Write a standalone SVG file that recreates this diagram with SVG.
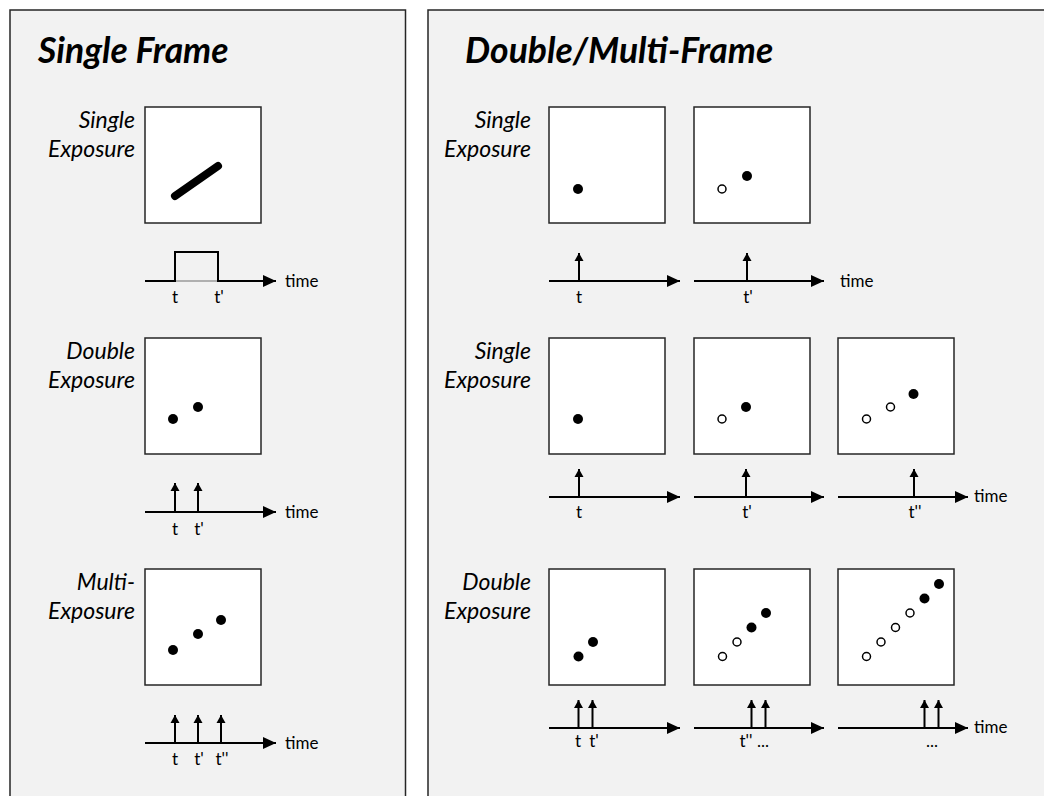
<svg xmlns="http://www.w3.org/2000/svg" width="1044" height="796" viewBox="0 0 1044 796">
<style>
.panel{fill:#f2f2f2;stroke:#262626;stroke-width:1.5}
.frame{fill:#ffffff;stroke:#262626;stroke-width:1.5}
.title{font-family:Lato,"Liberation Sans",sans-serif;font-weight:bold;font-style:italic;font-size:35.5px;fill:#000}
.lbl{font-family:Lato,"Liberation Sans",sans-serif;font-style:italic;font-size:23px;fill:#000;text-anchor:end}
.tk{font-family:Lato,"Liberation Sans",sans-serif;font-size:17px;fill:#000;text-anchor:middle}
.tm{font-family:Lato,"Liberation Sans",sans-serif;font-size:17px;fill:#000}
.dot{fill:#000}
.odot{fill:#fff;stroke:#000;stroke-width:1.5}
.axis{fill:none;stroke:#000;stroke-width:2;marker-end:url(#ah)}
.imp{fill:none;stroke:#000;stroke-width:2;marker-end:url(#ih)}
</style>
<defs>
<marker id="ah" markerUnits="userSpaceOnUse" markerWidth="14" markerHeight="12" refX="13" refY="6" orient="auto" overflow="visible"><path d="M0,0 L13,6 L0,12 Z" fill="#000"/></marker>
<marker id="ih" markerUnits="userSpaceOnUse" markerWidth="9" markerHeight="9" refX="8" refY="4.5" orient="auto" overflow="visible"><path d="M0,0 L8,4.5 L0,9 Z" fill="#000"/></marker>
</defs>
<rect width="1044" height="796" fill="#fff"/>
<g id="panel-single">
<rect class="panel" x="10" y="10" width="395.5" height="800"/>
<text class="title" x="38" y="63">Single Frame</text>
</g>
<g id="panel-multi">
<rect class="panel" x="428" y="10" width="630" height="800"/>
<text class="title" x="465" y="63">Double/Multi-Frame</text>
</g>
<g id="sf-single">
<text class="lbl" x="135" y="128">Single</text>
<text class="lbl" x="135" y="157">Exposure</text>
<rect class="frame" x="145" y="107" width="116" height="116"/>
<line x1="175" y1="196" x2="218" y2="166" stroke="#000" stroke-width="8" stroke-linecap="round"/>
</g>
<g id="sf-double">
<text class="lbl" x="135" y="359">Double</text>
<text class="lbl" x="135" y="388">Exposure</text>
<rect class="frame" x="145" y="338" width="116" height="116"/>
<circle class="dot" cx="173" cy="419" r="5"/>
<circle class="dot" cx="198" cy="407" r="5"/>
</g>
<g id="sf-multi">
<text class="lbl" x="135" y="590">Multi-</text>
<text class="lbl" x="135" y="619">Exposure</text>
<rect class="frame" x="145" y="569" width="116" height="116"/>
<circle class="dot" cx="173" cy="650" r="5"/>
<circle class="dot" cx="198" cy="634" r="5"/>
<circle class="dot" cx="221" cy="620" r="5"/>
</g>
<g id="mf-single-2">
<text class="lbl" x="531" y="128">Single</text>
<text class="lbl" x="531" y="157">Exposure</text>
<rect class="frame" x="549" y="107" width="116" height="116"/>
<circle class="dot" cx="578" cy="189" r="5"/>
<rect class="frame" x="694" y="107" width="116" height="116"/>
<circle class="odot" cx="722" cy="189" r="4"/>
<circle class="dot" cx="747" cy="176" r="5"/>
</g>
<g id="mf-single-3">
<text class="lbl" x="531" y="359">Single</text>
<text class="lbl" x="531" y="388">Exposure</text>
<rect class="frame" x="549" y="338" width="116" height="116"/>
<circle class="dot" cx="578" cy="419" r="5"/>
<rect class="frame" x="694" y="338" width="116" height="116"/>
<circle class="odot" cx="722" cy="419" r="4"/>
<circle class="dot" cx="746" cy="407" r="5"/>
<rect class="frame" x="838" y="338" width="116" height="116"/>
<circle class="odot" cx="866.5" cy="419" r="4"/>
<circle class="odot" cx="890.5" cy="407" r="4"/>
<circle class="dot" cx="913.5" cy="394" r="5"/>
</g>
<g id="mf-double">
<text class="lbl" x="531" y="590">Double</text>
<text class="lbl" x="531" y="619">Exposure</text>
<rect class="frame" x="549" y="569" width="116" height="116"/>
<circle class="dot" cx="578.5" cy="656.5" r="5"/>
<circle class="dot" cx="593" cy="642" r="5"/>
<rect class="frame" x="694" y="569" width="116" height="116"/>
<circle class="odot" cx="722.5" cy="656.5" r="4"/>
<circle class="odot" cx="737" cy="642" r="4"/>
<circle class="dot" cx="751.5" cy="627.5" r="5"/>
<circle class="dot" cx="766" cy="613" r="5"/>
<rect class="frame" x="838" y="569" width="116" height="116"/>
<circle class="odot" cx="866.5" cy="656.5" r="4"/>
<circle class="odot" cx="881" cy="642" r="4"/>
<circle class="odot" cx="895.5" cy="627.5" r="4"/>
<circle class="odot" cx="910" cy="613" r="4"/>
<circle class="dot" cx="924.5" cy="598.5" r="5"/>
<circle class="dot" cx="939" cy="584" r="5"/>
</g>
<g id="connectors">
<line x1="175" y1="281" x2="218" y2="281" stroke="#b0b0b0" stroke-width="2"/>
<path class="axis" d="M145,281 H175 V252 H218 V281 H276"/>
<line class="axis" x1="145" y1="512" x2="276" y2="512"/>
<line class="imp" x1="175" y1="512" x2="175" y2="483"/>
<line class="imp" x1="198" y1="512" x2="198" y2="483"/>
<line class="axis" x1="145" y1="743" x2="276" y2="743"/>
<line class="imp" x1="175" y1="743" x2="175" y2="715"/>
<line class="imp" x1="198" y1="743" x2="198" y2="715"/>
<line class="imp" x1="221" y1="743" x2="221" y2="715"/>
<line class="axis" x1="549" y1="281" x2="680" y2="281"/>
<line class="imp" x1="579" y1="281" x2="579" y2="253"/>
<line class="axis" x1="694" y1="281" x2="824" y2="281"/>
<line class="imp" x1="747" y1="281" x2="747" y2="253"/>
<line class="axis" x1="549" y1="497" x2="680" y2="497"/>
<line class="imp" x1="579" y1="497" x2="579" y2="469"/>
<line class="axis" x1="694" y1="497" x2="824" y2="497"/>
<line class="imp" x1="746" y1="497" x2="746" y2="469"/>
<line class="axis" x1="838" y1="497" x2="968" y2="497"/>
<line class="imp" x1="914" y1="497" x2="914" y2="469"/>
<line class="axis" x1="549" y1="728" x2="680" y2="728"/>
<line class="imp" x1="578.5" y1="728" x2="578.5" y2="700"/>
<line class="imp" x1="592.5" y1="728" x2="592.5" y2="700"/>
<line class="axis" x1="694" y1="728" x2="824" y2="728"/>
<line class="imp" x1="751.5" y1="728" x2="751.5" y2="700"/>
<line class="imp" x1="765.5" y1="728" x2="765.5" y2="700"/>
<line class="axis" x1="838" y1="728" x2="968" y2="728"/>
<line class="imp" x1="924.5" y1="728" x2="924.5" y2="700"/>
<line class="imp" x1="938.5" y1="728" x2="938.5" y2="700"/>
</g>
<g id="axis-labels">
<text class="tk" x="175" y="303">t</text>
<text class="tk" x="219" y="303">t'</text>
<text class="tm" x="285" y="287">time</text>
<text class="tk" x="175" y="535">t</text>
<text class="tk" x="199" y="535">t'</text>
<text class="tm" x="285" y="518">time</text>
<text class="tk" x="175" y="765">t</text>
<text class="tk" x="199" y="765">t'</text>
<text class="tk" x="222" y="765">t''</text>
<text class="tm" x="285" y="749">time</text>
<text class="tk" x="579" y="303">t</text>
<text class="tk" x="748" y="303">t'</text>
<text class="tm" x="840" y="287">time</text>
<text class="tk" x="579" y="518">t</text>
<text class="tk" x="747" y="518">t'</text>
<text class="tk" x="915" y="518">t''</text>
<text class="tm" x="974" y="502">time</text>
<text class="tk" x="578" y="747">t</text>
<text class="tk" x="594" y="747">t'</text>
<text class="tk" x="746" y="747">t''</text>
<text class="tk" x="763" y="747">...</text>
<text class="tk" x="932" y="747">...</text>
<text class="tm" x="974" y="733">time</text>
</g>
</svg>
